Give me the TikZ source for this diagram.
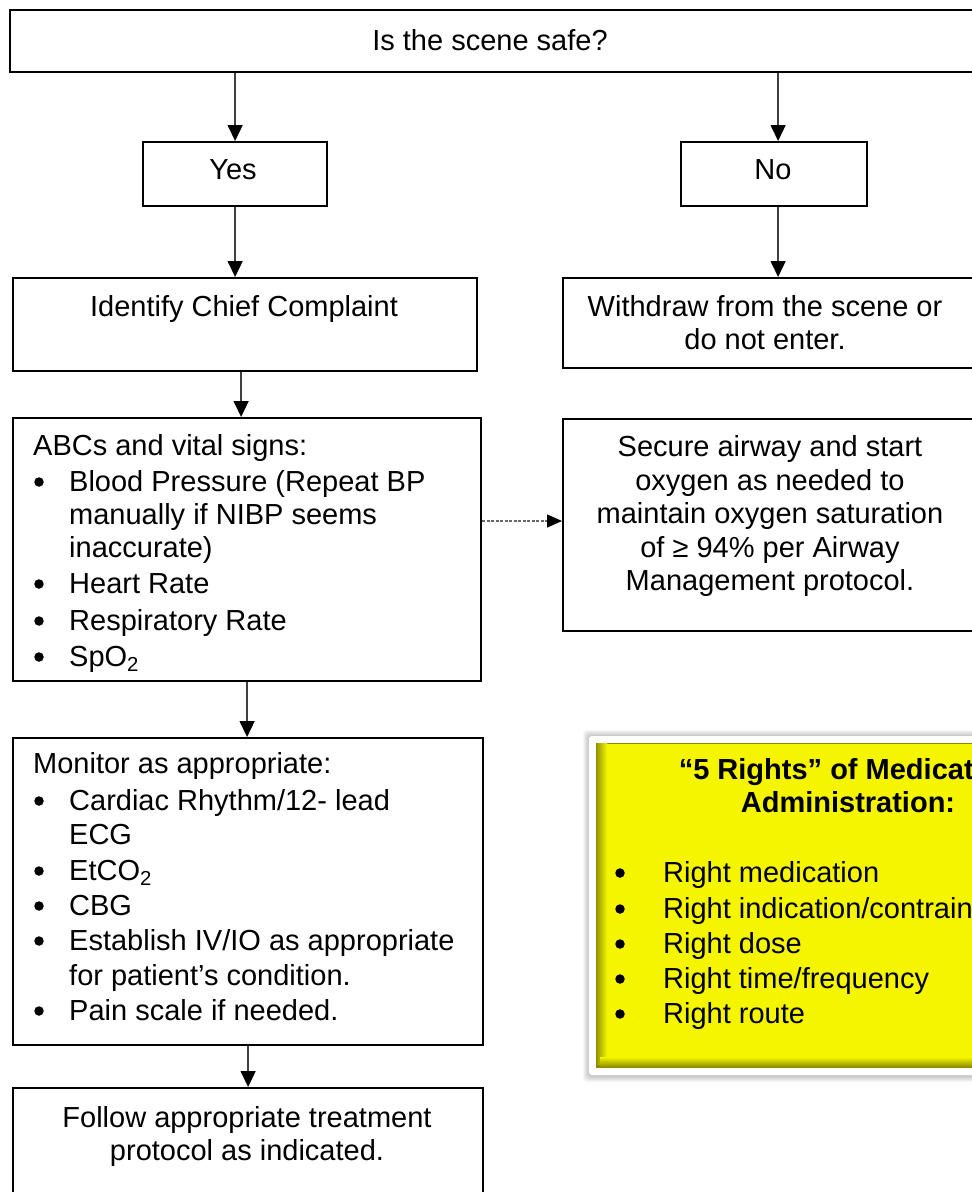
\documentclass[tikz,border=0pt]{standalone}
\usepackage{fontspec}
\setmainfont{Liberation Sans}
\usetikzlibrary{arrows.meta}
\definecolor{ylw}{HTML}{F5F500}
\definecolor{ylwdark}{HTML}{8C8C00}
\definecolor{linegray}{HTML}{404040}
\newcommand\bodyfont{\fontsize{29}{33.4}\selectfont}

\begin{document}
\begin{tikzpicture}[x=1pt,y=-1pt,
  box/.style={draw=black, line width=2.2pt, fill=white, anchor=north west, inner sep=0pt},
  tx/.style={anchor=base, font=\bodyfont, inner sep=0pt, text=black},
  txl/.style={anchor=base west, font=\bodyfont, inner sep=0pt, text=black},
  dot/.style={circle, fill=black, inner sep=0pt, minimum size=9.5pt},
  arr/.style={draw=linegray, line width=1.5pt, -{Triangle[length=16pt,width=15pt,color=black]}},
  dsh/.style={draw=gray!80!black, line width=1.2pt, dash pattern=on 3pt off 1.5pt, -{Triangle[length=15pt,width=13pt,color=black]}}]

\useasboundingbox (0,0) rectangle (972,1192);
\clip (0,0) rectangle (972,1192);
\fill[white] (0,0) rectangle (972,1192);

% ---- flow boxes ----
\node[box, minimum width=980pt, minimum height=62pt] (top) at (9,9) {};
\node[box, minimum width=184pt, minimum height=64pt] (yes) at (142,141) {};
\node[box, minimum width=186pt, minimum height=64pt] (no) at (680,141) {};
\node[box, minimum width=464pt, minimum height=93pt] (ident) at (12,277) {};
\node[box, minimum width=420pt, minimum height=90pt] (wd) at (562,277) {};
\node[box, minimum width=468pt, minimum height=263pt] (abc) at (12,417) {};
\node[box, minimum width=420pt, minimum height=212pt] (sec) at (562,418) {};
\node[box, minimum width=470pt, minimum height=307pt] (mon) at (12,737) {};
\node[box, minimum width=470pt, minimum height=140pt] (fol) at (12,1087) {};

% ---- texts ----
\node[tx] (t-top) at (490,50) {Is the scene safe?};
\node[tx] (t-yes) at (233,179) {Yes};
\node[tx] (t-no) at (773,179) {No};
\node[tx] (t-ident) at (244,316) {Identify Chief Complaint};
\node[tx] (t-wd1) at (765,316) {Withdraw from the scene or};
\node[tx] (t-wd2) at (765,349) {do not enter.};

\node[tx] (t-sec1) at (770,456) {Secure airway and start};
\node[tx] (t-sec2) at (770,490) {oxygen as needed to};
\node[tx] (t-sec3) at (770,523) {maintain oxygen saturation};
\node[tx] (t-sec4) at (770,557) {of ≥ 94\% per Airway};
\node[tx] (t-sec5) at (770,590) {Management protocol.};

\node[txl] (t-abc0) at (33,455) {ABCs and vital signs:};
\node[dot] (b-abc1) at (39,482) {};
\node[txl] (t-abc1) at (69,491) {Blood Pressure (Repeat BP};
\node[txl] (t-abc1b) at (69,524) {manually if NIBP seems};
\node[txl] (t-abc1c) at (69,557) {inaccurate)};
\node[dot] (b-abc2) at (39,584) {};
\node[txl] (t-abc2) at (69,593) {Heart Rate};
\node[dot] (b-abc3) at (39,621) {};
\node[txl] (t-abc3) at (69,630) {Respiratory Rate};
\node[dot] (b-abc4) at (39,657) {};
\node[txl] (t-abc4) at (69,666) {SpO\textsubscript{2}};

\node[txl] (t-mon0) at (33,773) {Monitor as appropriate:};
\node[dot] (b-mon1) at (39,801) {};
\node[txl] (t-mon1) at (69,810) {Cardiac Rhythm/12- lead};
\node[txl] (t-mon1b) at (69,844) {ECG};
\node[dot] (b-mon2) at (39,871) {};
\node[txl] (t-mon2) at (69,880) {EtCO\textsubscript{2}};
\node[dot] (b-mon3) at (39,906) {};
\node[txl] (t-mon3) at (69,915) {CBG};
\node[dot] (b-mon4) at (39,941) {};
\node[txl] (t-mon4) at (69,950) {Establish IV/IO as appropriate};
\node[txl] (t-mon4b) at (69,985) {for patient’s condition.};
\node[dot] (b-mon5) at (39,1011) {};
\node[txl] (t-mon5) at (69,1020) {Pain scale if needed.};

\node[tx] (t-fol1) at (247,1127) {Follow appropriate treatment};
\node[tx] (t-fol2) at (247,1160) {protocol as indicated.};

% ---- connectors ----
\coordinate (dy) at (0,521);
\draw[arr] (yes.north |- top.south) -- (yes.north);
\draw[arr] ([xshift=4pt]no.north |- top.south) -- ([xshift=4pt]no.north);
\draw[arr] (yes.south) -- (yes.south |- ident.north);
\draw[arr] ([xshift=4pt]no.south) -- ([xshift=4pt]no.south |- wd.north);
\draw[arr] ([xshift=-4pt]ident.south) -- ([xshift=-4pt]ident.south |- abc.north);
\draw[arr] (abc.south) -- (abc.south |- mon.north);
\draw[arr] (mon.south) -- (mon.south |- fol.north);
\draw[dsh] (abc.east |- dy) -- (sec.west |- dy);

% ---- "5 Rights" panel: soft shadow, white frame, bevelled yellow face ----
\foreach \d in {1,...,6}
  \fill[black, opacity=0.035, rounded corners=4pt] (589-\d,736-\d) rectangle (1010,1075+\d+1);
\fill[white, rounded corners=3pt] (589,736) rectangle (1010,1075);
\fill[ylwdark] (596,743) rectangle (1010,1068);
\fill[ylw] (600,744) rectangle (1010,1063);
\shade[left color=ylwdark!85!ylw, right color=ylw] (597,743) rectangle (607,1064);
\shade[top color=ylw, bottom color=ylwdark] (600,1057) rectangle (1010,1067);

\node[tx, font=\bodyfont\bfseries] (t-r0) at (848,779) {“5 Rights” of Medication};
\node[tx, font=\bodyfont\bfseries] (t-r0b) at (848,812) {Administration:};
\node[dot] (b-r1) at (620,873) {};
\node[txl] (t-r1) at (663,882) {Right medication};
\node[dot] (b-r2) at (620,909) {};
\node[txl] (t-r2) at (663,918) {Right indication/contraindication};
\node[dot] (b-r3) at (620,944) {};
\node[txl] (t-r3) at (663,953) {Right dose};
\node[dot] (b-r4) at (620,979) {};
\node[txl] (t-r4) at (663,988) {Right time/frequency};
\node[dot] (b-r5) at (620,1014) {};
\node[txl] (t-r5) at (663,1023) {Right route};
\end{tikzpicture}
\end{document}
